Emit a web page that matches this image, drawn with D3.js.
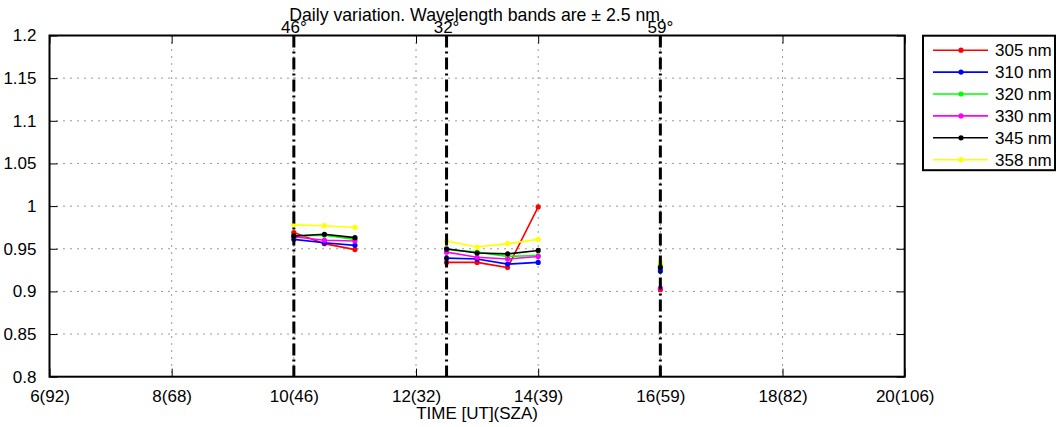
<!DOCTYPE html>
<html>
<head>
<meta charset="utf-8">
<script src="https://cdn.jsdelivr.net/npm/d3@7"></script>
<style>
  body { margin: 0; background: #fff; }
  svg text { font-family: "Liberation Sans", Arial, sans-serif; fill: #000; }
</style>
</head>
<body>
<div id="chart"></div>
<script>
// Measurement times (UT hours); runs split the day into separate scans
const times = [10, 10.5, 11, 12.5, 13, 13.5, 14, 16];
const runs = [0, 0, 0, 1, 1, 1, 1, 2];

const wavelengths = ['305 nm', '310 nm', '320 nm', '330 nm', '345 nm', '358 nm'];
const colors = ['#ff0000', '#0000ff', '#00ff00', '#ff00ff', '#000000', '#ffff00'];

const v305 = [0.969, 0.956, 0.949, 0.934, 0.934, 0.928, 0.999, 0.902];
const v310 = [0.961, 0.957, 0.954, 0.939, 0.938, 0.932, 0.934, 0.924];
const v320 = [0.965, 0.966, 0.961, 0.949, 0.946, 0.941, 0.942, 0.930];
const v330 = [0.964, 0.960, 0.959, 0.946, 0.940, 0.938, 0.941, 0.904];
const v345 = [0.965, 0.967, 0.963, 0.950, 0.945, 0.944, 0.948, 0.928];
const v358 = [0.978, 0.977, 0.975, 0.959, 0.952, 0.956, 0.961, 0.934];
const seriesValues = [v305, v310, v320, v330, v345, v358];

// x ticks and their labels (time with solar zenith angle)
const xTicks = [6, 8, 10, 12, 14, 16, 18, 20];
const xTickLabels = ['6(92)', '8(68)', '10(46)', '12(32)', '14(39)', '16(59)', '18(82)', '20(106)'];
const yTicks = [0.8, 0.85, 0.9, 0.95, 1, 1.05, 1.1, 1.15, 1.2];
const yTickLabels = ['0.8', '0.85', '0.9', '0.95', '1', '1.05', '1.1', '1.15', '1.2'];

// Scan start markers with SZA labels
const markerTimes = [10, 12.5, 16];
const markerLabels = ['46°', '32°', '59°'];

const titleText = 'Daily variation. Wavelength bands are ± 2.5 nm.';
const xLabelText = 'TIME [UT](SZA)';

class LineChart {
  constructor(_config) {
    this.config = {
      parentElement: _config.parentElement,
      containerWidth: 1059,
      containerHeight: 427,
      margin: {
        top: 35.5, right: 154.3, bottom: 50.3, left: 49.5,
      },
      tickLength: 8,
    };
    this.initVis();
  }

  initVis() {
    const vis = this;
    const m = vis.config.margin;

    vis.width = vis.config.containerWidth - m.left - m.right;
    vis.height = vis.config.containerHeight - m.top - m.bottom;

    vis.svg = d3.select(vis.config.parentElement).append('svg')
      .attr('width', vis.config.containerWidth)
      .attr('height', vis.config.containerHeight);

    vis.chartArea = vis.svg.append('g')
      .attr('transform', `translate(${m.left},${m.top})`);

    vis.xScale = d3.scaleLinear().domain([6, 20]).range([0, vis.width]);
    vis.yScale = d3.scaleLinear().domain([0.8, 1.2]).range([vis.height, 0]);

    vis.data = wavelengths.map((w, i) => ({
      name: w,
      color: colors[i],
      points: times.map((t, j) => ({ t, v: seriesValues[i][j], run: runs[j] })),
    }));

    vis.line = d3.line()
      .x((d) => vis.xScale(d.t))
      .y((d) => vis.yScale(d.v));

    vis.renderVis();
  }

  renderVis() {
    const vis = this;
    const tl = vis.config.tickLength;

    // dotted grid
    const grid = vis.chartArea.append('g');
    grid.selectAll('.gx')
      .data(xTicks.slice(1, -1))
      .join('line')
      .attr('x1', (d) => vis.xScale(d))
      .attr('x2', (d) => vis.xScale(d))
      .attr('y1', 0)
      .attr('y2', vis.height)
      .attr('stroke', '#333')
      .attr('stroke-width', 1)
      .attr('stroke-dasharray', '1,6');
    grid.selectAll('.gy')
      .data(yTicks.slice(1, -1))
      .join('line')
      .attr('x1', 0)
      .attr('x2', vis.width)
      .attr('y1', (d) => vis.yScale(d))
      .attr('y2', (d) => vis.yScale(d))
      .attr('stroke', '#333')
      .attr('stroke-width', 1)
      .attr('stroke-dasharray', '1,6');

    // series lines (one path per scan run) and markers
    const runIds = [...new Set(runs)];
    vis.data.forEach((s) => {
      const g = vis.chartArea.append('g');
      runIds.forEach((r) => {
        const pts = s.points.filter((p) => p.run === r);
        if (pts.length > 1) {
          g.append('path')
            .datum(pts)
            .attr('d', vis.line)
            .attr('fill', 'none')
            .attr('stroke', s.color)
            .attr('stroke-width', 1.6);
        }
      });
      g.selectAll('circle')
        .data(s.points)
        .join('circle')
        .attr('cx', (d) => vis.xScale(d.t))
        .attr('cy', (d) => vis.yScale(d.v))
        .attr('r', 2.6)
        .attr('fill', s.color);
    });

    // vertical dash-dot markers with SZA labels
    vis.chartArea.selectAll('.marker')
      .data(markerTimes)
      .join('line')
      .attr('x1', (d) => vis.xScale(d))
      .attr('x2', (d) => vis.xScale(d))
      .attr('y1', 0)
      .attr('y2', vis.height)
      .attr('stroke', '#000')
      .attr('stroke-width', 3)
      .attr('stroke-dasharray', '12,4,2,4');
    vis.chartArea.selectAll('.marker-label')
      .data(markerTimes)
      .join('text')
      .attr('x', (d) => vis.xScale(d))
      .attr('y', -3)
      .attr('text-anchor', 'middle')
      .style('font-size', '17px')
      .text((d, i) => markerLabels[i]);

    // axes box
    vis.chartArea.append('rect')
      .attr('width', vis.width)
      .attr('height', vis.height)
      .attr('fill', 'none')
      .attr('stroke', '#000')
      .attr('stroke-width', 2);

    // inward ticks on all four sides
    const xAxisBottom = d3.axisBottom(vis.xScale)
      .tickValues(xTicks)
      .tickSize(-tl)
      .tickPadding(tl + 5)
      .tickFormat((d, i) => xTickLabels[i]);
    const xAxisTop = d3.axisTop(vis.xScale).tickValues(xTicks).tickSize(-tl).tickFormat('');
    const yAxisLeft = d3.axisLeft(vis.yScale)
      .tickValues(yTicks)
      .tickSize(-tl)
      .tickPadding(tl + 5)
      .tickFormat((d, i) => yTickLabels[i]);
    const yAxisRight = d3.axisRight(vis.yScale).tickValues(yTicks).tickSize(-tl).tickFormat('');

    const axes = [
      vis.chartArea.append('g').attr('transform', `translate(0,${vis.height})`).call(xAxisBottom),
      vis.chartArea.append('g').call(xAxisTop),
      vis.chartArea.append('g').call(yAxisLeft),
      vis.chartArea.append('g').attr('transform', `translate(${vis.width},0)`).call(yAxisRight),
    ];
    axes.forEach((a) => {
      a.select('.domain').remove();
      a.selectAll('.tick line').attr('stroke', '#000').attr('stroke-width', 1);
      a.selectAll('.tick text')
        .style('font-size', '17px')
        .style('font-family', '"Liberation Sans", Arial, sans-serif')
        .attr('fill', '#000');
    });

    // title and x label
    vis.svg.append('text')
      .attr('x', vis.config.margin.left + vis.width / 2)
      .attr('y', 21)
      .attr('text-anchor', 'middle')
      .style('font-size', '17.7px')
      .text(titleText);
    vis.svg.append('text')
      .attr('x', vis.config.margin.left + vis.width / 2)
      .attr('y', 419)
      .attr('text-anchor', 'middle')
      .style('font-size', '17px')
      .text(xLabelText);

    // legend
    const lx = 923;
    const ly = 35.7;
    const rowH = 21.9;
    const legend = vis.svg.append('g').attr('transform', `translate(${lx},${ly})`);
    legend.append('rect')
      .attr('width', 132)
      .attr('height', 134.5)
      .attr('fill', '#fff')
      .attr('stroke', '#000')
      .attr('stroke-width', 2);
    const rows = legend.selectAll('.row')
      .data(vis.data)
      .join('g')
      .attr('transform', (d, i) => `translate(0,${14.5 + i * rowH})`);
    rows.append('line')
      .attr('x1', 10)
      .attr('x2', 65)
      .attr('stroke', (d) => d.color)
      .attr('stroke-width', 1.6);
    rows.append('circle')
      .attr('cx', 38)
      .attr('r', 2.6)
      .attr('fill', (d) => d.color);
    rows.append('text')
      .attr('x', 72)
      .attr('y', 6)
      .style('font-size', '17px')
      .text((d) => d.name);
  }
}

const chart = new LineChart({ parentElement: '#chart' });
</script>
</body>
</html>
